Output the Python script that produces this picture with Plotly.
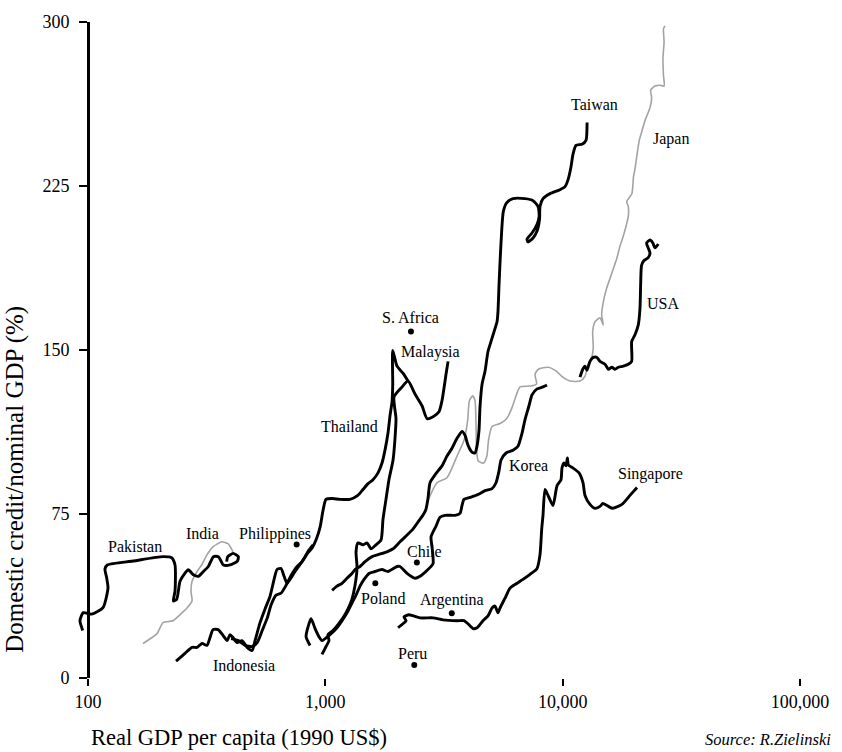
import numpy as np
import plotly.graph_objects as go

# ---- data: real GDP per capita (1990 US$) vs domestic credit / nominal GDP (%) ----
pakistan_gdp = [95, 92.5, 95.5, 103.6, 115.7, 121.4, 119.9, 117.9, 120.6, 154.7, 207.1, 225.1, 232.6, 232.6,
                228.9, 236.4, 244.2, 256.3, 264.6, 277.9, 291.6, 306.2, 321.5, 337.5, 354.4, 372.0, 396.7, 426,
                430, 409, 388, 384]
pakistan_credit = [21.7, 26.2, 29.9, 29.2, 32.2, 41.2, 45.7, 49.9, 51.7, 53.5, 55.5, 55.0, 51.7, 39.7, 35.2,
                   36.0, 44.2, 48.0, 49.5, 47.2, 46.5, 48.7, 51.0, 55.5, 55.5, 51.7, 51.7, 53.5, 55.5, 57.0,
                   55.5, 53.2]

india_gdp = [170.5, 195.3, 207.0, 228.1, 248.9, 261.3, 274.3, 271.6, 274.3, 288.0, 302.1, 317.3, 336.3, 366.9,
             389.0, 408.3]
india_credit = [15.8, 20.3, 25.3, 26.2, 29.8, 32.0, 35.2, 39.7, 44.2, 48.7, 51.9, 56.4, 60.0, 62.3, 61.4, 57.7]

indonesia_gdp = [234.9, 256.3, 274.3, 288.0, 302.1, 317.3, 326.7, 336.3, 353.3, 371.0, 385.9, 396.7, 408.3,
                 424.5, 445.8, 468.1, 491.5, 505.7, 530.8, 557.2, 584.9, 608.3, 626.0, 650.9, 670.1, 690.0,
                 710.2, 745.6, 782.6, 821.6, 853.9, 888.0]
indonesia_credit = [7.7, 11.3, 14.0, 14.0, 15.8, 14.9, 18.5, 22.1, 22.1, 19.4, 17.1, 19.8, 18.5, 16.2, 17.1,
                    14.0, 12.6, 17.1, 25.3, 31.6, 37.4, 45.1, 49.6, 50.1, 46.5, 43.3, 45.1, 48.7, 51.9, 55.5,
                    58.6, 60.9]

thailand_gdp = [400.6, 430.2, 458.9, 491.5, 516.2, 542.0, 569.3, 590.6, 620.0, 650.9, 683.3, 717.2, 753.0,
                798.1, 838.0, 879.8, 914.2, 950.3, 978.2, 1006, 1068, 1153, 1270, 1371, 1441, 1513, 1588, 1667,
                1733, 1784, 1836, 1873, 1910, 1923, 1923, 2005, 2124, 2230]
thailand_credit = [18.0, 17.1, 14.9, 14.4, 16.2, 21.7, 27.5, 33.4, 37.9, 38.8, 42.4, 46.9, 50.5, 53.2, 56.8,
                   59.5, 63.2, 69.0, 76.7, 81.7, 82.1, 81.7, 81.7, 83.5, 86.2, 88.9, 90.7, 93.8, 98.3, 104.2,
                   111.9, 120.0, 126.3, 134.4, 149.8, 142.6, 139.4, 135.8]

malaysia_gdp = [968.2, 1007, 1036, 1026, 1077, 1131, 1187, 1246, 1295, 1334, 1360, 1347, 1373, 1441, 1498,
                1558, 1635, 1717, 1750, 1801, 1854, 1929, 1966, 1985, 1947, 2085, 2230, 2387, 2555, 2684, 2843,
                3012, 3101, 3225, 3289]
malaysia_credit = [10.8, 14.4, 17.1, 19.8, 21.7, 24.4, 27.5, 31.6, 36.1, 42.4, 50.5, 57.7, 61.8, 60.9, 61.8,
                   59.1, 60.9, 63.2, 72.6, 81.7, 90.7, 99.7, 109.6, 118.6, 128.6, 132.6, 135.8, 129.9, 124.5,
                   118.6, 119.5, 121.8, 126.8, 138.9, 144.8]

korea_gdp = [862.4, 829.6, 870.8, 905.3, 940, 968, 1046, 1120, 1176, 1234, 1295, 1347, 1400, 1456, 1528, 1619,
             1733, 1836, 2005, 2064, 2210, 2387, 2506, 2707, 2843, 2815, 2788, 2927, 3042, 3194, 3519, 3694,
             3767, 3840, 4070, 4398, 4708, 5040, 5238, 5392, 5500, 5773, 6176, 6482, 6740, 6940, 7214, 7427,
             7800, 8263, 8590]
korea_credit = [14.9, 18.9, 27.1, 22.6, 18.9, 17.1, 19.8, 23.0, 26.2, 29.8, 34.3, 37.9, 42.0, 45.1, 47.8, 48.7,
                49.6, 48.7, 51.0, 51.0, 47.8, 45.6, 46.5, 49.6, 52.3, 60.0, 64.5, 69.5, 73.5, 74.4, 74.4, 75.3,
                78.9, 81.7, 82.6, 83.9, 85.7, 86.6, 89.3, 94.7, 99.7, 102.9, 104.2, 106.0, 111.9, 118.2, 124.5,
                129.5, 132.2, 133.1, 134.0]

taiwan_gdp = [1068, 1120, 1176, 1234, 1295, 1334, 1400, 1470, 1573, 1667, 1818, 1929, 2064, 2210, 2340, 2456,
              2577, 2653, 2707, 2761, 2898, 3101, 3256, 3418, 3588, 3767, 3877, 3990, 4149, 4272, 4355, 4441,
              4485, 4575, 4708, 4846, 4988, 5136, 5290, 5338, 5392, 5445, 5540, 5624, 5816, 6176, 6940, 7500,
              7880, 7960, 7800, 7427, 7075, 7144, 7500, 7800, 7990, 8027, 8263, 8845, 9745, 10230, 10530, 10840,
              11050, 11380, 12060, 12540, 12670]
taiwan_credit = [40.1, 42.0, 43.3, 45.6, 47.8, 49.6, 51.0, 53.2, 55.5, 56.4, 57.7, 59.1, 62.3, 65.4, 68.1, 71.3,
                 74.4, 77.1, 82.1, 89.3, 92.9, 97.0, 101.5, 105.1, 109.6, 112.8, 111.0, 106.5, 103.3, 102.9,
                 106.0, 113.2, 124.1, 134.4, 140.3, 149.3, 153.8, 158.3, 162.9, 167.4, 179.5, 189.9, 205.3, 213.4,
                 217.4, 219.2, 219.2, 218.3, 215.6, 211.1, 207.5, 203.5, 200.7, 199.4, 201.2, 204.4, 209.8, 215.6,
                 219.2, 221.5, 223.3, 224.7, 227.8, 233.7, 239.5, 243.6, 244.1, 245.9, 254.0]

japan_gdp = [2684, 2956, 3256, 3588, 3840, 3978, 4045, 4180, 4272, 4313, 4340, 4410, 4640, 4793, 4870, 5040,
             5445, 5804, 6095, 6400, 6611, 7285, 7760, 7647, 7900, 8690, 9400, 10000, 10738, 11832, 12420, 12800,
             13250, 13460, 13380, 13685, 14365, 14830, 14600, 14830, 15320, 15828, 16340, 16890, 17441, 18010,
             18490, 18900, 18900, 18610, 19570, 19880, 20172, 20500, 21020, 21490, 22227, 23332, 23710, 23480,
             24491, 25708, 26750, 26590, 26450, 26750, 26590, 26986]
japan_credit = [80.3, 89.3, 91.6, 101.5, 108.7, 117.7, 126.8, 129.0, 126.8, 116.4, 104.2, 99.2, 98.3, 101.5,
                108.7, 115.0, 116.4, 118.6, 123.2, 129.9, 133.1, 133.5, 134.4, 138.9, 141.2, 142.1, 140.3, 137.6,
                135.8, 135.8, 138.0, 143.5, 146.6, 151.1, 158.3, 162.9, 164.7, 161.5, 166.0, 171.9, 178.2, 182.7,
                187.2, 191.7, 197.6, 202.1, 206.6, 211.1, 215.6, 217.9, 221.5, 229.2, 232.8, 238.2, 245.9, 249.5,
                254.9, 260.8, 265.3, 268.9, 270.7, 271.1, 270.7, 275.6, 283.3, 291.0, 296.8, 298.2]

usa_gdp = [11832, 12150, 12420, 12660, 13037, 13460, 13940, 14365, 15079, 15580, 16110, 16615, 17160, 18010,
           18900, 19530, 19530, 20172, 20830, 21175, 21320, 21490, 21980, 22930, 23332, 22930, 22570, 23332,
           23990, 24491, 25290]
usa_credit = [137.6, 141.2, 142.6, 140.7, 144.8, 146.6, 146.6, 144.8, 143.5, 141.2, 142.1, 141.2, 142.1, 142.6,
              143.5, 144.8, 153.8, 157.0, 161.5, 169.2, 180.9, 188.6, 190.8, 192.2, 194.4, 196.7, 198.9, 200.3,
              198.9, 196.7, 198.5]

singapore_gdp = [2025, 2124, 2188, 2145, 2252, 2506, 2843, 3134, 3588, 3840, 3990, 4190, 4355, 4618, 4846, 5040,
                 5187, 5338, 5445, 5716, 6000, 6425, 6804, 7285, 7800, 8027, 8160, 8263, 8426, 8676, 9105, 9470,
                 9840, 9936, 10130, 10330, 10470, 10570, 11040, 11720, 12180, 12420, 13037, 13685, 14365, 14780,
                 15370, 16130, 17780, 19217, 20570]
singapore_credit = [23.0, 24.8, 26.2, 28.0, 28.9, 27.5, 27.5, 26.6, 26.2, 26.2, 24.8, 22.6, 23.0, 26.2, 28.4,
                    32.0, 32.9, 29.8, 32.0, 36.5, 41.1, 43.3, 45.1, 47.4, 50.1, 56.4, 68.1, 74.4, 86.2, 83.5,
                    78.9, 88.0, 90.7, 96.1, 98.3, 97.0, 100.6, 97.4, 96.1, 93.8, 89.3, 83.5, 79.4, 77.6, 78.5,
                    79.8, 78.9, 77.6, 79.4, 83.5, 87.1]

# single-observation countries
point_names = ["S. Africa", "Philippines", "Chile", "Poland", "Argentina", "Peru"]
point_gdp = [2295, 757, 2430, 1624, 3410, 2370]
point_credit = [158.5, 61.0, 52.8, 43.3, 29.6, 5.9]

# country labels
label_names = ["Pakistan", "India", "Philippines", "Indonesia", "Thailand", "S. Africa", "Malaysia", "Chile",
               "Poland", "Argentina", "Peru", "Korea", "Singapore", "USA", "Japan", "Taiwan"]
label_gdp = [158, 305, 614, 454, 1270, 2275, 2786, 2606, 1750, 3420, 2339, 7145, 23550, 26490, 28580, 13680]
label_credit = [60.0, 65.9, 65.9, 5.9, 115.0, 164.7, 148.9, 57.7, 36.5, 35.6, 11.3, 97.0, 93.4, 171.4, 246.3,
                262.5]

x_ticks = [100, 1000, 10000, 100000]
x_ticktext = ["100", "1,000", "10,000", "100,000"]
y_ticks = [0, 75, 150, 225, 300]

grey_series = [(india_gdp, india_credit), (japan_gdp, japan_credit)]
black_series = [(pakistan_gdp, pakistan_credit), (indonesia_gdp, indonesia_credit),
                (thailand_gdp, thailand_credit), (malaysia_gdp, malaysia_credit),
                (korea_gdp, korea_credit), (taiwan_gdp, taiwan_credit),
                (usa_gdp, usa_credit), (singapore_gdp, singapore_credit)]

SERIF = "Liberation Serif, Times New Roman, serif"

fig = go.Figure()
for gdp, credit in grey_series:
    fig.add_trace(go.Scatter(x=gdp, y=credit, mode="lines", hoverinfo="skip", showlegend=False,
                             line=dict(color="#a3a3a3", width=1.6, shape="spline", smoothing=0.6)))
for gdp, credit in black_series:
    fig.add_trace(go.Scatter(x=gdp, y=credit, mode="lines", hoverinfo="skip", showlegend=False,
                             line=dict(color="black", width=2.9, shape="spline", smoothing=0.6)))
fig.add_trace(go.Scatter(x=point_gdp, y=point_credit, mode="markers", hoverinfo="skip", showlegend=False,
                         marker=dict(color="black", size=6)))

for name, gx, cy in zip(label_names, label_gdp, label_credit):
    fig.add_annotation(x=np.log10(gx), y=cy, xref="x", yref="y", text=name, showarrow=False,
                       xanchor="center", yanchor="middle",
                       font=dict(family=SERIF, size=16, color="black"))

# layout geometry: 100 .. 100,000 spans three decades
W, H = 842, 752
ML, MR, MT, MB = 74, 42, 13, 74
PW, PH = W - ML - MR, H - MT - MB
decade_px = (PW - 14) / 3.0
x_start = 2 - 14 / decade_px
yaxis_pos = (2 - x_start) / (5 - x_start)


def paper_x(px):
    return (px - ML) / PW


def paper_y(py):
    return (H - MB - py) / PH


fig.add_shape(type="line", xref="x", yref="y", x0=2, x1=5, y0=0, y1=0,
              line=dict(color="black", width=3))

fig.add_annotation(xref="paper", yref="paper", x=paper_x(15), y=paper_y(477),
                   xanchor="center", yanchor="middle",
                   text="Domestic credit/nominal GDP (%)", textangle=-90, showarrow=False,
                   font=dict(family=SERIF, size=25, color="black"))
fig.add_annotation(xref="paper", yref="paper", x=paper_x(89), y=paper_y(738),
                   xanchor="left", yanchor="middle", text="Real GDP per capita (1990 US$)", showarrow=False,
                   font=dict(family=SERIF, size=22.5, color="black"))
fig.add_annotation(xref="paper", yref="paper", x=paper_x(833), y=paper_y(740),
                   xanchor="right", yanchor="middle", text="<i>Source: R.Zielinski</i>", showarrow=False,
                   font=dict(family=SERIF, size=16.5, color="black"))

fig.update_layout(
    width=W, height=H,
    margin=dict(l=ML, r=MR, t=MT, b=MB, pad=0),
    paper_bgcolor="white", plot_bgcolor="white",
    xaxis=dict(type="log", range=[x_start, 5], tickvals=x_ticks, ticktext=x_ticktext,
               ticks="outside", ticklen=7, tickwidth=2, tickcolor="black",
               showline=False, showgrid=False, zeroline=False,
               tickfont=dict(family=SERIF, size=18, color="black")),
    yaxis=dict(range=[0, 300], tickvals=y_ticks, ticks="outside", ticklen=8, tickwidth=2, tickcolor="black",
               showline=True, linewidth=3, linecolor="black", showgrid=False, zeroline=False,
               anchor="free", position=yaxis_pos, ticklabelstandoff=6,
               tickfont=dict(family=SERIF, size=18, color="black")),
)

fig.write_html("out.html")
